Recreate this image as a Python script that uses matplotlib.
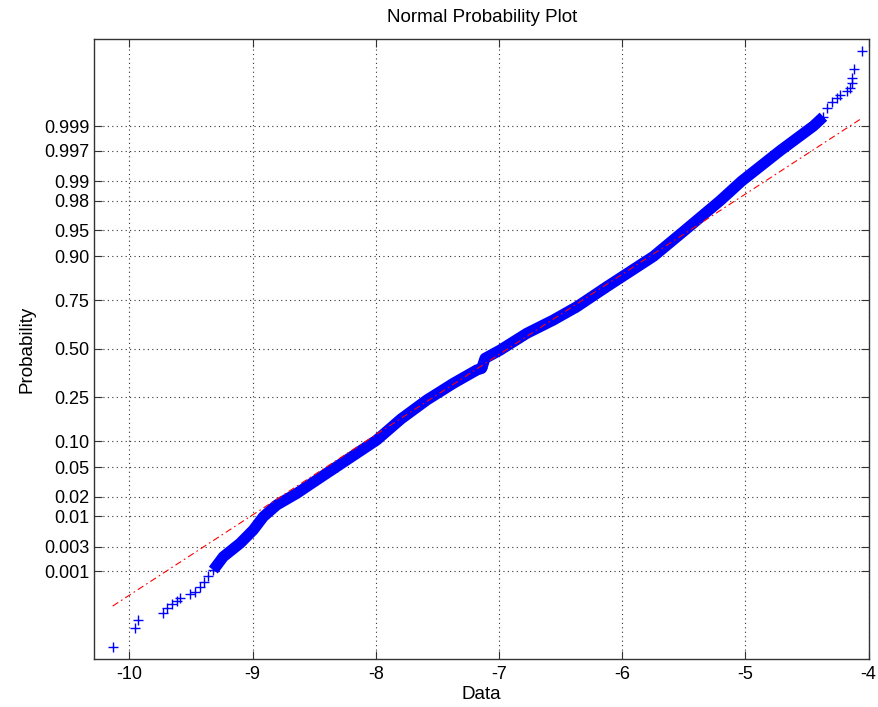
import matplotlib
matplotlib.use("Agg")
import matplotlib.pyplot as plt
from matplotlib.ticker import NullLocator
import numpy as np
from statistics import NormalDist

plt.rcParams['font.family'] = ['Liberation Sans', 'DejaVu Sans']

nd = NormalDist()

# sorted data values (x) and their plotting probabilities
# lower tail: separate '+' markers
lo_x = [-10.135, -9.954, -9.927, -9.729, -9.692, -9.656, -9.615, -9.588,
        -9.507, -9.467, -9.426, -9.394, -9.36]
lo_p = [1.70e-5, 5.20e-5, 8.29e-5, 1.198e-4, 1.566e-4, 1.97e-4, 2.31e-4, 2.65e-4,
        3.26e-4, 3.72e-4, 4.77e-4, 6.08e-4, 7.89e-4]

# dense middle part (markers overlap into a solid band)
mid_x = [-9.318, -9.237, -9.101, -8.994, -8.912, -8.804, -8.641, -8.479,
         -8.317, -8.154, -7.992, -7.795, -7.586, -7.370, -7.180, -7.140,
         -7.113, -6.990, -6.774, -6.558, -6.368, -6.125, -5.746, -5.490,
         -5.205, -5.030, -4.718, -4.448, -4.367]
mid_p = [0.00106, 0.00194, 0.00345, 0.00592, 0.00985, 0.0150, 0.0223, 0.0342,
         0.0507, 0.0732, 0.1024, 0.1645, 0.2379, 0.3153, 0.3836, 0.3924,
         0.4467, 0.4924, 0.5843, 0.6547, 0.7197, 0.8051, 0.900, 0.950,
         0.980, 0.990, 0.997, 0.999, 0.999357]

# upper tail
hi_x = [-4.339, -4.299, -4.258, -4.231, -4.177, -4.150, -4.136, -4.136,
        -4.118, -4.050]
hi_p = [0.999575, 0.999695, 0.999745, 0.999784, 0.999826, 0.999849, 0.999885,
        0.999912, 0.999947, 0.9999823]

# reference line fitted through the quartiles
ref_mu, ref_sigma = -6.927, 0.898

prob_ticks = [0.001, 0.003, 0.01, 0.02, 0.05, 0.10, 0.25, 0.50, 0.75, 0.90,
              0.95, 0.98, 0.99, 0.997, 0.999]
prob_labels = ['0.001', '0.003', '0.01', '0.02', '0.05', '0.10', '0.25', '0.50',
               '0.75', '0.90', '0.95', '0.98', '0.99', '0.997', '0.999']
x_ticks = [-10, -9, -8, -7, -6, -5, -4]


def fwd(p):
	return np.vectorize(lambda v: nd.inv_cdf(min(max(v, 1e-15), 1 - 1e-15)), otypes=[float])(p)


def inv(z):
	return np.vectorize(lambda v: nd.cdf(v), otypes=[float])(z)


W, H = 879, 707
fig = plt.figure(figsize=(W / 100, H / 100), dpi=100)
ax = fig.add_axes([94.3 / W, 1 - 659 / H, (869 - 94.3) / W, (659 - 39) / H])
ax.set_yscale('function', functions=(fwd, inv))

# band + markers
ax.plot(mid_x, mid_p, color='b', lw=8, solid_capstyle='butt', solid_joinstyle='round', zorder=2)
all_x = lo_x + mid_x + hi_x
all_p = lo_p + mid_p + hi_p
ax.plot(all_x, all_p, '+', color='b', ms=7.5, mew=1.0, zorder=2)

# red dash-dot reference line over the data range
rx = np.array([min(all_x), max(all_x)])
rp = inv((rx - ref_mu) / ref_sigma)
ax.plot(rx, rp, color='r', lw=0.8, linestyle=(0, (6, 3, 1.5, 3)), zorder=3)

ax.set_xlim(-10.284, -3.997)
ax.set_ylim(nd.cdf(-4.307), nd.cdf(4.298))
ax.set_xticks(x_ticks, labels=[str(t) for t in x_ticks])
ax.set_yticks(prob_ticks, labels=prob_labels)
ax.yaxis.set_minor_locator(NullLocator())
ax.xaxis.set_minor_locator(NullLocator())

ax.grid(True, color='0.2', linestyle=(0, (1, 3)), lw=0.8)
ax.set_axisbelow(True)
ax.tick_params(direction='in', length=5.5, width=0.8, color='0.2', top=True, right=True,
	labelsize=13)
ax.tick_params(axis='x', pad=5)
ax.tick_params(axis='y', pad=3.5)
for s in ax.spines.values():
	s.set_color('0.2')
	s.set_linewidth(1)

ax.set_title('Normal Probability Plot', fontsize=13.5, pad=12)
ax.set_xlabel('Data', fontsize=13.5, labelpad=2)
ax.set_ylabel('Probability', fontsize=13.5, labelpad=6)

fig.savefig('out.png', dpi=100, facecolor='white')
